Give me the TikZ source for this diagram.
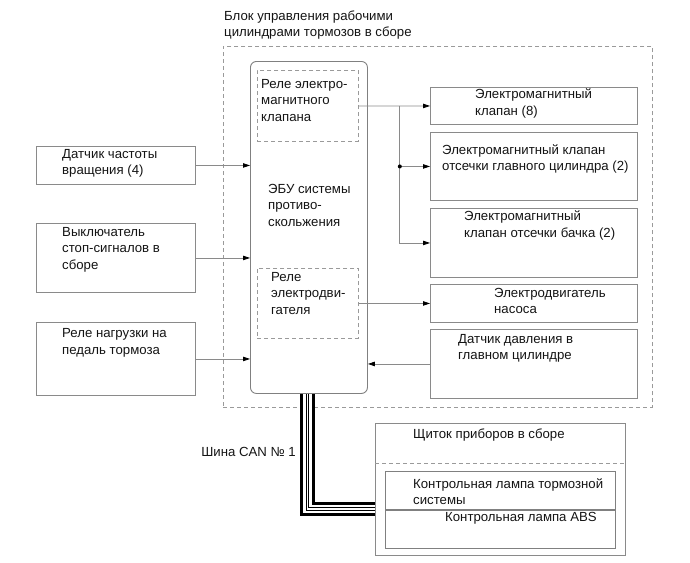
\documentclass[tikz,border=0pt]{standalone}
\usepackage{fontspec}
\setmainfont{Liberation Sans}
\usetikzlibrary{arrows.meta,calc}
\definecolor{frameline}{HTML}{8A8A8A}
\definecolor{dashline}{HTML}{9A9A9A}
\definecolor{inktext}{HTML}{141414}
\tikzset{
  unit/.style={draw=frameline,line width=0.9pt,anchor=north west,inner sep=0pt},
  relay/.style={draw=dashline,dash pattern=on 4pt off 3pt,line width=0.8pt,anchor=north west,inner sep=0pt},
  lbl/.style={anchor=west,align=left,inner sep=0pt,text=inktext,font=\fontsize{13.2}{16.5}\selectfont},
  sig/.style={-{Triangle[length=7pt,width=4.5pt,color=black]},line width=0.8pt,color=frameline},
}

\begin{document}
\begin{tikzpicture}[x=1pt,y=-1pt,
  size/.style 2 args={minimum width=#1pt,minimum height=#2pt}]
  \useasboundingbox (0,0) rectangle (690,562);
  \node[relay,size={429}{361}] (block) at (223,46) {};
  \node[lbl] (blocktxt) at (224,25) {Блок управления рабочими\\цилиндрами тормозов в сборе};
  \node[unit,draw=gray,rounded corners=6pt,size={117}{332}] (ecu) at (250,61) {};
  \node[relay,size={101}{71}] (rel1) at (257,70) {};
  \node[relay,size={101}{70}] (rel2) at (257,268) {};
  \node[lbl] (rel1txt) at (261,100.5) {Реле электро-\\магнитного\\клапана};
  \node[lbl] (ecutxt) at (268,205) {ЭБУ системы\\противо-\\скольжения};
  \node[lbl] (rel2txt) at (271,293.5) {Реле\\электродви-\\гателя};
  \node[unit,size={159}{38}] (dat) at (36,146) {};
  \node[unit,size={159}{69}] (vykl) at (36,223) {};
  \node[unit,size={159}{73}] (nagr) at (36,322) {};
  \node[lbl] (dattxt) at (62,163.5) {Датчик частоты\\вращения (4)};
  \node[lbl] (vykltxt) at (62,249.5) {Выключатель\\стоп-сигналов в\\сборе};
  \node[lbl] (nagrtxt) at (62,343) {Реле нагрузки на\\педаль тормоза};
  \node[unit,size={207}{37}] (kl8) at (430,87) {};
  \node[unit,size={207}{68}] (klglav) at (430,132) {};
  \node[unit,size={207}{69}] (klbach) at (430,208) {};
  \node[unit,size={207}{38}] (motor) at (430,284) {};
  \node[unit,size={207}{69}] (press) at (430,329) {};
  \node[lbl] (kl8txt) at (475,103.5) {Электромагнитный\\клапан (8)};
  \node[lbl] (klglavtxt) at (442,159) {Электромагнитный клапан\\отсечки главного цилиндра (2)};
  \node[lbl] (klbachtxt) at (464,225.5) {Электромагнитный\\клапан отсечки бачка (2)};
  \node[lbl] (motortxt) at (494,301) {Электродвигатель\\насоса};
  \node[lbl] (presstxt) at (458,348.5) {Датчик давления в\\главном цилиндре};
  \node[unit,size={250}{132}] (shchit) at (375,423) {};
  \node[unit,draw=gray,size={230}{38}] (lamp1) at (385,471) {};
  \node[unit,draw=gray,size={230}{38}] (lamp2) at (lamp1.south west) {};
  \node[lbl] (shchittxt) at (413,435) {Щиток приборов в сборе};
  \node[lbl] (lamp1txt) at (413,491.5) {Контрольная лампа тормозной\\системы};
  \node[lbl] (lamp2txt) at (445,518) {Контрольная лампа ABS};
  \node[lbl,anchor=east] (cantxt) at (296,452) {Шина CAN № 1};
  \draw[relay] ($(shchit.north west)+(0,40)$) -- ($(shchit.north east)+(0,40)$);
  \foreach \src in {dat,vykl,nagr}
    \draw[sig] (\src.east) -- (\src.east -| ecu.west);
  \coordinate (split) at ([xshift=41pt]rel1.east);
  \draw[sig] (rel1.east) -- (kl8.west);
  \draw[sig] (split) |- (klglav.west);
  \draw[sig] (split) |- (klbach.west);
  \fill (split |- klglav.west) circle (2pt);
  \draw[sig] (rel2.east) -- (motor.west);
  \draw[sig] (press.west) -- (press.west -| ecu.east);
  \coordinate (canbend) at (307.5,509);
  \foreach \w/\c in {14.5/black,8.5/white,3.5/black,1.5/white}
    \draw[line width=\w pt,\c] (ecu.south -| canbend) -- (canbend) -- (canbend -| shchit.west);
\end{tikzpicture}
\end{document}
